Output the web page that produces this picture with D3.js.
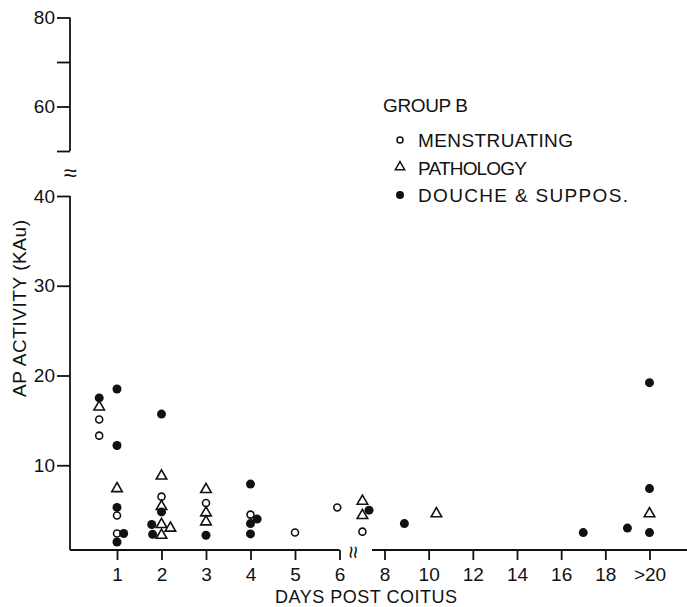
<!DOCTYPE html>
<html><head><meta charset="utf-8">
<script src="https://cdn.jsdelivr.net/npm/d3@7/dist/d3.min.js"></script>
<style>
body{margin:0;background:#fff;}
svg text{font-family:"Liberation Sans",Arial,sans-serif;fill:#111;}
</style></head>
<body><svg id="c" width="687" height="607"></svg>
<script>
// ---- data ----
const menstruating = [[0.6,15.1],[0.6,13.3],[1,4.4],[1,2.4],[2,6.5],[3,5.8],[4,4.5],[5,2.5],[5.95,5.3],[7,2.6]];
const pathology = [[0.6,16.5],[1,7.4],[2,8.8],[2,5.4],[2,3.4],[2.2,3.0],[2,2.2],[3,7.3],[3,4.7],[3,3.7],[7,6.0],[7,4.4],[10.35,4.6],[20,4.6]];
const douche = [[0.6,17.5],[1,18.5],[1,12.2],[1,5.3],[1.15,2.4],[1,1.45],[2,15.7],[2,4.8],[1.78,3.4],[1.8,2.3],[3,2.2],[4,7.9],[4.15,4.0],[4,3.5],[4,2.35],[7.3,5.0],[8.9,3.5],[17,2.5],[19,3.0],[20,2.5],[20,7.4],[20,19.2]];
const xTicksA = [1,2,3,4,5,6];
const xTicksB = [8,10,12,14,16,18,20];
const xTickLabelsB = ["8","10","12","14","16","18",">20"];
const yTicksLow = [10,20,30,40];
const yTicksHigh = [50,60,70,80];
const yLabelsHigh = {60:"60",80:"80"};
const legendItems = ["MENSTRUATING","PATHOLOGY","DOUCHE & SUPPOS."];

const svg = d3.select("#c");
const axisX0 = 70, axisY0 = 550;
const xA = d3.scaleLinear().domain([1,6]).range([117,339.5]);
const xB = d3.scaleLinear().domain([8,20]).range([384.5,649.5]);
const xPos = d => d < 6.5 ? xA(d) : xB(d);
const yLow = d3.scaleLinear().domain([0,40]).range([555,196]);
const yHigh = d3.scaleLinear().domain([50,80]).range([151,17.5]);

const stroke = "#111";
const gxa = svg.append("g").attr("transform",`translate(0,${axisY0})`)
  .call(d3.axisBottom(xA).tickValues(xTicksA).tickSize(10).tickSizeOuter(0).tickFormat(d3.format("d")));
gxa.select(".domain").attr("d",`M${axisX0},0H${xA(6)}`);
const gxb = svg.append("g").attr("transform",`translate(0,${axisY0})`)
  .call(d3.axisBottom(xB).tickValues(xTicksB).tickSize(10).tickSizeOuter(0).tickFormat((d,i)=>xTickLabelsB[i]));
gxb.select(".domain").attr("d",`M372,0H687`);
const gyl = svg.append("g").attr("transform",`translate(${axisX0},0)`)
  .call(d3.axisLeft(yLow).tickValues(yTicksLow).tickSize(13).tickSizeOuter(0));
gyl.select(".domain").attr("d",`M0,${yLow(40)}V${axisY0}`);
const gyh = svg.append("g").attr("transform",`translate(${axisX0},0)`)
  .call(d3.axisLeft(yHigh).tickValues(yTicksHigh).tickSize(13).tickSizeOuter(0).tickFormat(d=>yLabelsHigh[d]||""));
gyh.select(".domain").attr("d",`M0,${yHigh(80)}V${yHigh(50)}`);

svg.selectAll(".domain, .tick line").attr("stroke",stroke).attr("stroke-width",1.8);
svg.selectAll(".tick text").attr("font-size",19).attr("fill","#111")
  .style("font-family","'Liberation Sans',Arial,sans-serif");
gxa.selectAll(".tick text").attr("y",18);
gxb.selectAll(".tick text").attr("y",18);
gyl.selectAll(".tick text").attr("x",-15);
gyh.selectAll(".tick text").attr("x",-15);

// break marks
svg.append("text").attr("x",70).attr("y",173).attr("text-anchor","middle").attr("dy","0.35em").attr("font-size",24).text("≈");
svg.append("text").attr("transform",`translate(354,552) rotate(90)`).attr("text-anchor","middle").attr("dy","0.35em").attr("font-size",22).text("≈");

function fit(sel, w, fs){
  sel.attr("font-size",fs||19).attr("textLength",w).attr("lengthAdjust","spacing");
}
// titles
svg.append("text").attr("x",275).attr("y",603).call(fit,182,18).text("DAYS POST COITUS");
svg.append("text").attr("transform","translate(25.5,397) rotate(-90)").call(fit,177).text("AP ACTIVITY (KAu)");

// markers
const tri = d3.symbol().type(d3.symbolTriangle).size(48);
svg.append("g").selectAll("circle").data(menstruating).join("circle")
  .attr("cx",d=>xPos(d[0])).attr("cy",d=>yLow(d[1])).attr("r",3.5)
  .attr("fill","#fff").attr("stroke",stroke).attr("stroke-width",1.6);
svg.append("g").selectAll("path").data(pathology).join("path")
  .attr("d",tri).attr("transform",d=>`translate(${xPos(d[0])},${yLow(d[1])})`)
  .attr("fill","#fff").attr("stroke",stroke).attr("stroke-width",1.6);
svg.append("g").selectAll("circle").data(douche).join("circle")
  .attr("cx",d=>xPos(d[0])).attr("cy",d=>yLow(d[1])).attr("r",4.5).attr("fill",stroke);

// legend
const lg = svg.append("g");
lg.append("text").attr("x",383).attr("y",112).call(fit,85).text("GROUP B");
const ly = [140,167,195];
const lb = [147,175,202];
const lw = [155,109,210];
lg.append("circle").attr("cx",400).attr("cy",ly[0]).attr("r",3).attr("fill","#fff").attr("stroke",stroke).attr("stroke-width",1.5);
lg.append("path").attr("d",d3.symbol().type(d3.symbolTriangle).size(38)).attr("transform",`translate(400,${ly[1]})`).attr("fill","#fff").attr("stroke",stroke).attr("stroke-width",1.5);
lg.append("circle").attr("cx",400).attr("cy",ly[2]).attr("r",4).attr("fill",stroke);
lg.selectAll("text.li").data(legendItems).join("text").attr("class","li")
  .attr("x",418).attr("y",(d,i)=>lb[i]).each(function(d,i){ d3.select(this).call(fit,lw[i]); }).text(d=>d);
</script></body></html>
